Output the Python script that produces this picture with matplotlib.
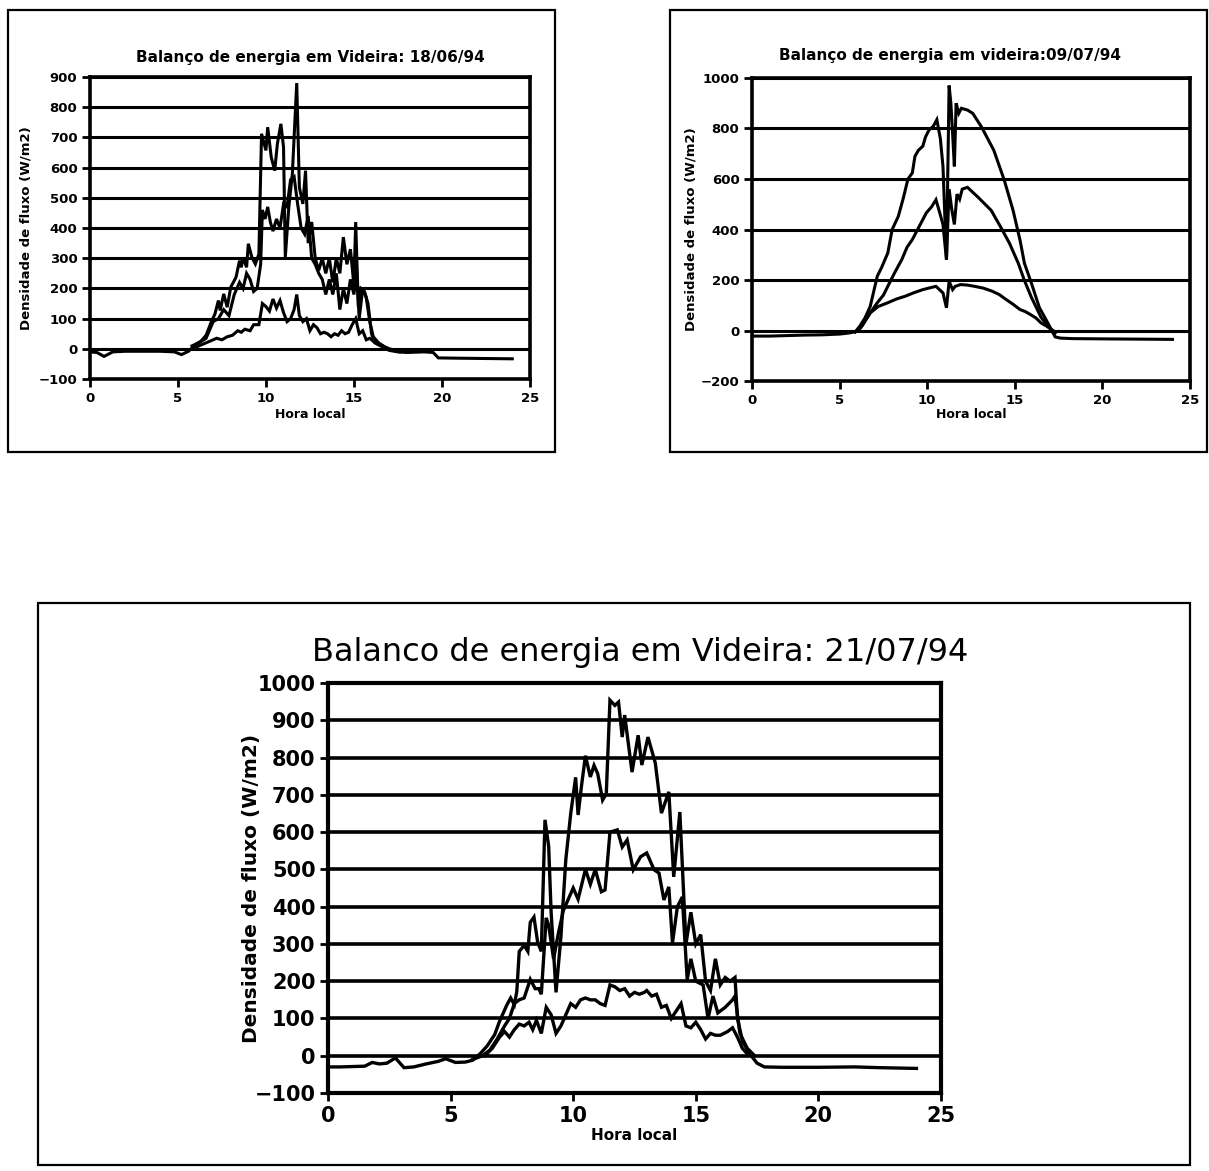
import matplotlib
matplotlib.use("Agg")
import matplotlib.pyplot as plt
from matplotlib.patches import Rectangle

plt.rcParams['font.family'] = ['DejaVu Sans']

# ---- 18/06/94 ----
t_rn_a = [0, 0.4, 0.8, 1.3, 2, 3, 4, 4.8, 5.2, 5.6, 6.0, 6.3, 6.6, 6.9, 7.1, 7.3, 7.4, 7.6, 7.8, 8.0,
          8.3, 8.5, 8.6, 8.7, 8.9, 9.0, 9.2, 9.4, 9.6, 9.75, 9.85, 10.0, 10.1, 10.3, 10.5, 10.65, 10.85,
          11.0, 11.1, 11.3, 11.5, 11.75, 11.9, 12.1, 12.25, 12.4, 12.6, 12.8, 13.0, 13.2, 13.4, 13.6,
          13.8, 14.0, 14.2, 14.4, 14.6, 14.8, 15.0, 15.1, 15.25, 15.4, 15.6, 15.8, 16.0, 16.2, 16.5,
          17.0, 17.5, 18.0, 19.0, 19.5, 19.8, 21, 22.5, 24]
rn_a = [-10, -12, -25, -10, -8, -8, -8, -10, -19, -8, 15, 25, 45, 90, 115, 160, 127, 182, 138, 204,
        237, 292, 270, 303, 270, 348, 303, 281, 314, 712, 690, 657, 734, 635, 590, 679, 745,
        668, 303, 469, 579, 880, 535, 480, 590, 350, 420, 300, 260, 300, 250, 300,
        220, 300, 250, 370, 280, 330, 210, 420, 140, 200, 190, 150, 50, 20, 10,
        -5, -10, -12, -10, -12, -30, -31, -32, -33]
t_le_a = [5.8, 6.2, 6.6, 7.0, 7.3, 7.6, 7.9, 8.2, 8.5, 8.7, 8.9, 9.1, 9.3, 9.5, 9.7, 9.8, 9.95, 10.1,
          10.25, 10.4, 10.6, 10.8, 11.0, 11.2, 11.4, 11.6, 11.8, 12.0, 12.2, 12.4, 12.6, 12.8, 13.0,
          13.2, 13.4, 13.6, 13.8, 14.0, 14.2, 14.4, 14.6, 14.8, 15.0, 15.15, 15.3, 15.5, 15.7, 15.9,
          16.1, 16.4, 16.8, 17.2, 17.6]
le_a = [10, 20, 35, 90, 100, 130, 110, 180, 220, 200, 250, 230, 190, 200, 280, 460, 430, 470,
        420, 390, 430, 400, 480, 470, 560, 570, 480, 400, 380, 440, 300, 280, 250,
        230, 180, 230, 180, 250, 130, 200, 150, 230, 180, 260, 100, 200, 170, 90,
        40, 20, 5, -5, -10]
t_h_a = [6.0, 6.4, 6.8, 7.2, 7.5, 7.8, 8.1, 8.4, 8.6, 8.8, 9.1, 9.3, 9.6, 9.8, 10.0, 10.2, 10.4, 10.6,
         10.8, 11.0, 11.2, 11.4, 11.6, 11.75, 11.9, 12.1, 12.3, 12.5, 12.7, 12.9, 13.1, 13.3, 13.5,
         13.7, 13.9, 14.1, 14.3, 14.5, 14.7, 14.9, 15.1, 15.3, 15.5, 15.7, 15.9, 16.2, 16.6, 17.0, 17.4]
h_a = [5, 15, 25, 35, 30, 40, 45, 60, 55, 65, 60, 80, 80, 150, 140, 125, 165, 135,
       160, 120, 90, 100, 130, 180, 110, 90, 100, 60, 80, 70, 50, 55, 50,
       40, 50, 45, 60, 50, 55, 80, 100, 50, 60, 30, 35, 20, 10, 0, -5]

# ---- 09/07/94 ----
t_rn_b = [0, 1, 2, 3, 4, 5, 5.5, 5.9, 6.15, 6.45, 6.75, 7.15, 7.4, 7.75, 8.0, 8.35, 8.65, 8.9, 9.15,
          9.3, 9.5, 9.75, 9.9, 10.1, 10.35, 10.55, 10.75, 10.9, 11.1, 11.25, 11.35, 11.45, 11.55,
          11.65, 11.8, 11.95, 12.3, 12.6, 13.1, 13.8, 14.4, 14.9, 15.3, 15.55, 15.95, 16.4, 16.9,
          17.3, 17.6, 18.3, 20, 22, 24]
rn_b = [-22, -22, -20, -18, -17, -14, -10, -5, 17, 50, 96, 215, 250, 307, 400, 452, 528, 600, 624,
        690, 714, 730, 766, 794, 809, 835, 760, 650, 280, 970, 900, 780, 650,
        900, 860, 880, 873, 860, 806, 714, 595, 476, 357, 266, 187, 91, 28,
        -25, -30, -32, -33, -34, -35]
t_le_b = [5.9, 6.2, 6.5, 6.8, 7.15, 7.5, 7.75, 8.15, 8.55, 8.85, 9.15, 9.55, 9.95, 10.25, 10.5, 10.7,
          10.9, 11.1, 11.25, 11.4, 11.55, 11.7, 11.85, 12.0, 12.3, 12.9, 13.65, 14.2, 14.7, 15.2,
          15.55, 15.95, 16.5, 17.1, 17.3]
le_b = [-5, 10, 44, 75, 110, 140, 175, 230, 281, 330, 360, 413, 466, 490, 518, 470,
        420, 280, 560, 480, 420, 540, 520, 560, 567, 528, 476, 409, 345, 266,
        198, 131, 52, 0, -10]
t_h_b = [5.9, 6.3, 6.75, 7.2, 7.75, 8.25, 8.75, 9.25, 9.75, 10.2, 10.5, 10.9, 11.1, 11.25, 11.45,
         11.6, 11.9, 12.3, 12.7, 13.2, 13.7, 14.1, 14.5, 14.9, 15.3, 15.6, 15.9, 16.2, 16.5, 16.8,
         17.1, 17.3]
h_b = [-5, 20, 70, 95, 110, 125, 136, 150, 162, 170, 175, 149, 90, 195, 162,
       175, 182, 180, 175, 168, 156, 143, 123, 104, 83, 75, 63, 50, 30, 18,
       4, -5]

# ---- 21/07/94 ----
t_rn_c = [0, 0.5, 1.0, 1.5, 1.8, 2.1, 2.4, 2.75, 3.1, 3.5, 4.0, 4.5, 4.8, 5.2, 5.6, 5.9, 6.2, 6.5,
          6.8, 7.0, 7.3, 7.45, 7.6, 7.7, 7.8, 8.0, 8.15, 8.25, 8.4, 8.55, 8.7, 8.85, 9.0, 9.1, 9.3,
          9.5, 9.7, 9.9, 10.1, 10.2, 10.35, 10.5, 10.7, 10.85, 11.0, 11.2, 11.35, 11.5, 11.7, 11.85,
          12.0, 12.1, 12.4, 12.65, 12.8, 13.05, 13.35, 13.6, 13.9, 14.1, 14.35, 14.6, 14.8, 15.0,
          15.2, 15.4, 15.6, 15.8, 16.0, 16.2, 16.4, 16.6, 16.7, 16.9, 17.2, 17.5, 17.8, 18.5, 20,
          21.5, 22.5, 24]
rn_c = [-30, -30, -29, -28, -18, -22, -20, -6, -32, -30, -22, -15, -8, -18, -17, -12, 5, 27,
        57, 93, 137, 155, 137, 172, 280, 296, 280, 358, 372, 305, 280, 633, 562, 385, 170,
        320, 527, 650, 747, 646, 730, 805, 748, 779, 757, 686, 703, 954, 940, 949,
        855, 914, 761, 860, 780, 855, 785, 651, 708, 480, 654, 300, 385, 300,
        325, 200, 175, 260, 190, 210, 200, 210, 100, 40, 5, -20, -30, -31, -31,
        -30, -32, -34]
t_le_c = [5.9, 6.3, 6.6, 6.9, 7.2, 7.4, 7.6, 7.8, 8.0, 8.25, 8.45, 8.6, 8.7, 8.9, 9.0, 9.2, 9.4, 9.6,
          9.8, 10.0, 10.2, 10.5, 10.7, 10.9, 11.15, 11.3, 11.5, 11.8, 12.0, 12.2, 12.45, 12.75, 13.0,
          13.3, 13.5, 13.7, 13.9, 14.05, 14.25, 14.45, 14.65, 14.8, 15.0, 15.3, 15.5, 15.7, 15.9,
          16.2, 16.5, 16.6, 16.8, 17.1, 17.4]
le_c = [-10, 0, 15, 45, 80, 100, 140, 150, 155, 205, 180, 180, 165, 370, 350, 260, 330, 390,
        420, 450, 420, 500, 460, 500, 440, 445, 600, 606, 560, 579, 499, 534, 544,
        499, 490, 418, 453, 303, 400, 426, 204, 260, 200, 190, 100, 160, 115,
        130, 150, 160, 60, 20, 0]
t_h_c = [6.4, 6.7, 7.0, 7.2, 7.4, 7.6, 7.8, 8.0, 8.2, 8.35, 8.5, 8.7, 8.9, 9.1, 9.3, 9.5, 9.7, 9.9,
         10.1, 10.3, 10.5, 10.7, 10.9, 11.1, 11.3, 11.5, 11.7, 11.9, 12.1, 12.3, 12.5, 12.7, 12.9,
         13.0, 13.2, 13.4, 13.6, 13.8, 14.0, 14.2, 14.4, 14.6, 14.8, 15.0, 15.2, 15.4, 15.6, 15.8,
         16.0, 16.3, 16.5, 16.7, 16.9, 17.1, 17.3]
h_c = [0, 20, 50, 65, 50, 70, 85, 80, 90, 70, 95, 60, 130, 110, 60, 80, 110, 140,
       130, 150, 155, 150, 150, 140, 135, 190, 185, 175, 180, 160, 170, 165, 170,
       175, 160, 165, 130, 135, 100, 120, 140, 80, 75, 90, 70, 45, 60, 55,
       55, 65, 75, 50, 20, 5, 0]

titles = ["Balanço de energia em Videira: 18/06/94",
          "Balanço de energia em videira:09/07/94",
          "Balanco de energia em Videira: 21/07/94"]
ylabel = "Densidade de fluxo (W/m2)"
xlabel = "Hora local"

fig = plt.figure(figsize=(12.09, 11.71), dpi=100)

# panel frames
for x0, y0, w, h in [(0.0066, 0.614, 0.4524, 0.3775),
                     (0.5542, 0.614, 0.4442, 0.3775),
                     (0.0314, 0.0051, 0.9529, 0.480)]:
    fig.add_artist(Rectangle((x0, y0), w, h, transform=fig.transFigure,
                             fill=False, ec='black', lw=1.6))


def panel(rect, series, ylim, ystep, title, title_xy, title_kw, tick_fs, lab_fs, xlab_fs,
          ylab_x, xlab_y, lw_grid, lw_line):
    ax = fig.add_axes(rect)
    for t, v in series:
        ax.plot(t, v, color='black', lw=lw_line, solid_joinstyle='miter')
    ax.set_xlim(0, 25)
    ax.set_ylim(*ylim)
    ax.set_xticks(range(0, 26, 5))
    ax.set_yticks(range(ylim[0], ylim[1] + 1, ystep))
    ax.grid(axis='y', color='black', lw=lw_grid)
    ax.set_axisbelow(True)
    for s in ax.spines.values():
        s.set_linewidth(lw_grid + 0.4)
    ax.tick_params(direction='out', length=6, width=2, labelsize=tick_fs, pad=3)
    for lab in ax.get_xticklabels() + ax.get_yticklabels():
        lab.set_fontweight('bold')
    ax.set_ylabel(ylabel, fontsize=lab_fs, fontweight='bold')
    ax.yaxis.set_label_coords(ylab_x, 0.5)
    ax.set_xlabel(xlabel, fontsize=xlab_fs, fontweight='bold')
    ax.xaxis.set_label_coords(0.5, xlab_y)
    fig.text(title_xy[0], title_xy[1], title, ha='center', va='center', **title_kw)
    return ax


small_title = dict(fontsize=11, fontweight='bold')

panel([0.0744, 0.6763, 0.3639, 0.2579],
      [(t_rn_a, rn_a), (t_le_a, le_a), (t_h_a, h_a)],
      (-100, 900), 100, titles[0], (0.2564, 0.9513), small_title,
      9.5, 9.5, 9, -0.13, -0.095, 2.2, 2.2)

panel([0.622, 0.6746, 0.3623, 0.2588],
      [(t_rn_b, rn_b), (t_le_b, le_b), (t_h_b, h_b)],
      (-200, 1000), 200, titles[1], (0.7858, 0.953), small_title,
      9.5, 9.5, 9, -0.125, -0.09, 2.2, 2.2)

panel([0.2713, 0.0666, 0.507, 0.3501],
      [(t_rn_c, rn_c), (t_le_c, le_c), (t_h_c, h_c)],
      (-100, 1000), 100, titles[2], (0.5294, 0.4432),
      dict(fontsize=23),
      15, 14.5, 11, -0.11, -0.085, 2.6, 2.4)

fig.savefig("out.png", dpi=100)
